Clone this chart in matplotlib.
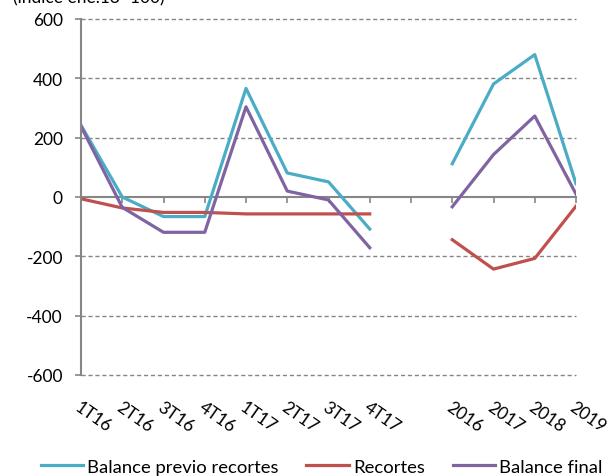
import numpy as np
import matplotlib.pyplot as plt

plt.rcParams['font.family'] = ['Lato', 'DejaVu Sans']
plt.rcParams['axes.unicode_minus'] = False

quarters = ['1T16', '2T16', '3T16', '4T16', '1T17', '2T17', '3T17', '4T17']
years = ['2016', '2017', '2018', '2019']

# quarterly values
previo_q = [242, 0, -66, -66, 366, 81, 51, -108]
recortes_q = [-6, -37, -52, -52, -57, -57, -57, -57]
final_q = [238, -35, -119, -119, 304, 20, -10, -171]

# annual values
previo_y = [112, 381, 480, 45]
recortes_y = [-144, -243, -207, -31]
final_y = [-33, 143, 273, 10]

labels = quarters + [''] + years
x_q = np.arange(len(quarters))
x_y = np.arange(len(years)) + len(quarters) + 1

teal = '#4BACC6'
red = '#C0504D'
purple = '#8064A2'
grey = '#868686'

fig = plt.figure(figsize=(6.13, 4.77), dpi=100)
ax = fig.add_axes([81 / 613, 1 - 376 / 477, (576 - 81) / 613, 356 / 477])

lw = 2.3
ax.plot(x_q, previo_q, color=teal, lw=lw, label='Balance previo recortes')
ax.plot(x_y, previo_y, color=teal, lw=lw)
ax.plot(x_q, recortes_q, color=red, lw=lw, label='Recortes')
ax.plot(x_y, recortes_y, color=red, lw=lw)
ax.plot(x_q, final_q, color=purple, lw=lw, label='Balance final')
ax.plot(x_y, final_y, color=purple, lw=lw)

ax.set_xlim(0, len(labels) - 1)
ax.set_ylim(-600, 600)
ax.set_yticks(np.arange(-600, 601, 200))
for v in [-600, -400, -200, 200, 400, 600]:
    ax.axhline(v, color=grey, lw=1.0, ls=(0, (3, 2)), zorder=0, clip_on=False)

for s in ['top', 'right']:
    ax.spines[s].set_visible(False)
ax.spines['left'].set_color(grey)
ax.spines['left'].set_linewidth(1.5)
ax.spines['bottom'].set_position(('data', 0))
ax.spines['bottom'].set_color(grey)
ax.spines['bottom'].set_linewidth(1.5)
ax.spines['bottom'].set_zorder(1)

ax.set_xticks(np.arange(len(labels)))
ax.tick_params(axis='x', direction='out', length=4, width=1.2, color=grey,
               labelbottom=False)
ax.tick_params(axis='y', direction='out', length=4, width=1.2, color=grey,
               labelsize=12.5, pad=9)

sec = ax.secondary_xaxis(location=0)
sec.set_xticks(np.arange(len(labels)))
sec.set_xticklabels(labels, rotation=-35, ha='left', va='top',
                    rotation_mode='anchor', fontsize=12.5)
sec.tick_params(length=0, pad=17)
sec.spines['bottom'].set_visible(False)

fig.text(13 / 613, 1.004, '(índice ene.13=100)', fontsize=12.5, va='center',
         ha='left')

ax.legend(loc='center', bbox_to_anchor=(0.486, -0.258), ncol=3,
          frameon=False, fontsize=13.3, handlelength=2.3, columnspacing=1.5,
          handletextpad=0.22, borderaxespad=0, borderpad=0)

fig.savefig('out.png', dpi=100, facecolor='white')
